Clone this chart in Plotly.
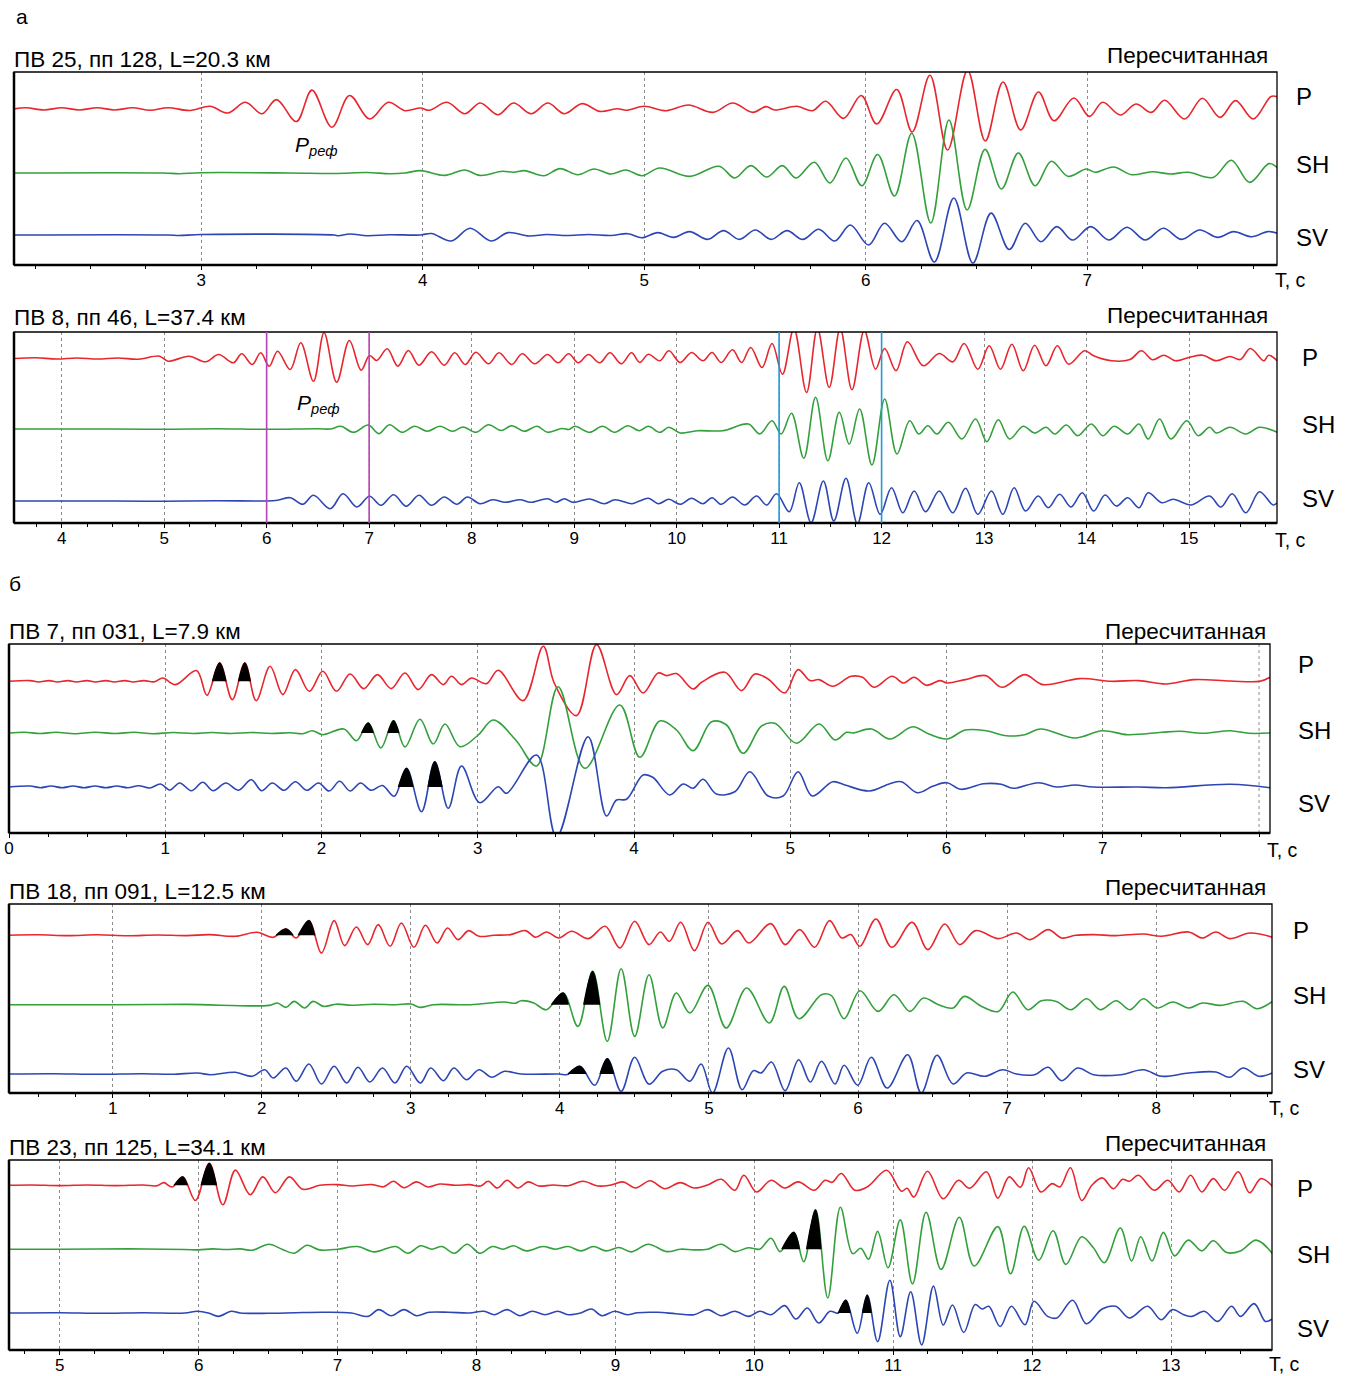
import plotly.graph_objects as go

# ------------------------------------------------------------------
# DATA: extrema of each trace
# t in seconds, amplitude in pixels relative to the trace baseline
# ------------------------------------------------------------------
# ---- panel 1: ПВ 25 ----
p1_P_t = [2.15, 2.21, 2.29, 2.37, 2.45, 2.53, 2.61, 2.69, 2.77, 2.85, 2.95, 3.04, 3.12, 3.20, 3.275, 3.34, 3.43, 3.50, 3.59, 3.67, 3.76, 3.845, 3.92, 3.99, 4.03, 4.11, 4.19, 4.26, 4.34, 4.41, 4.49, 4.565, 4.64, 4.72, 4.80, 4.88, 4.92, 5.0, 5.10, 5.20, 5.31, 5.40, 5.49, 5.55, 5.59, 5.69, 5.76, 5.82, 5.90, 5.98, 6.05, 6.14, 6.21, 6.29, 6.37, 6.46, 6.54, 6.62, 6.70, 6.78, 6.85, 6.94, 7.01, 7.07, 7.15, 7.22, 7.29, 7.35, 7.44, 7.52, 7.60, 7.67, 7.75, 7.83, 7.86]
p1_P_a = [0, 1.2, -1, 1.2, -1, 1.3, -1, 1.3, -1.2, 1.3, -1.5, 2.7, -4, 6.7, -4.7, 9.4, -12.5, 18.9, -18.2, 13.5, -10, 6.7, -1.7, 1, -1.3, 6.7, -4.7, 6, -5.7, 6, -4.7, 6, -4.7, 5.4, -2.4, 0.3, -1.3, 2.7, -1.7, 4, -3.4, 6, -3.4, 2.4, -1, 2.7, -1.7, 7.7, -9.4, 13.5, -15, 19.5, -23, 33.7, -41, 38.7, -32, 27, -21, 17, -11.8, 11, -7.4, 6.7, -6, 5, -3.4, 8.8, -10, 10.8, -8.4, 8.4, -10, 12.5, 12]
p1_SH_t = [2.15, 2.83, 2.9, 3.0, 3.4, 3.6, 3.75, 3.85, 3.92, 3.99, 4.10, 4.19, 4.26, 4.36, 4.41, 4.46, 4.547, 4.62, 4.70, 4.774, 4.85, 4.917, 4.99, 5.07, 5.205, 5.338, 5.409, 5.481, 5.553, 5.624, 5.686, 5.768, 5.839, 5.911, 5.983, 6.054, 6.130, 6.208, 6.294, 6.376, 6.458, 6.539, 6.613, 6.689, 6.765, 6.838, 6.914, 6.996, 7.037, 7.119, 7.201, 7.293, 7.375, 7.456, 7.569, 7.651, 7.733, 7.821, 7.86]
p1_SH_a = [0, 0, -0.7, 0.3, 0, -0.5, 0.5, -0.7, 0, 2.4, -2.4, 3, -2.4, 1.7, 0.7, 2.4, -2.7, 4.4, -1.7, 4, -1, 3, -2.7, 5, -3.4, 6.7, -5, 7.4, -4, 7.4, -5, 10.8, -10, 15, -12.8, 18.5, -23, 39.7, -50, 53, -37, 23.6, -16, 20, -12.8, 11.8, -3.4, 4, 0.7, 6, -1.7, 1.3, -1, 0.7, -4.4, 12.8, -9.4, 9.4, 5]
p1_SV_t = [2.15, 2.85, 2.9, 3.0, 3.6, 3.62, 3.67, 3.75, 3.85, 3.99, 4.04, 4.129, 4.214, 4.309, 4.385, 4.48, 4.56, 4.65, 4.75, 4.85, 4.926, 4.99, 5.061, 5.133, 5.205, 5.287, 5.358, 5.43, 5.502, 5.573, 5.645, 5.716, 5.788, 5.86, 5.931, 6.013, 6.085, 6.163, 6.232, 6.31, 6.398, 6.484, 6.566, 6.648, 6.72, 6.791, 6.863, 6.934, 7.016, 7.098, 7.18, 7.262, 7.344, 7.426, 7.508, 7.59, 7.661, 7.743, 7.815, 7.86]
p1_SV_a = [0, 0, -0.5, 0.5, 0, -0.7, 1, -0.7, 0.3, 0, 1.5, -6, 6.7, -6, 2.4, -1, 0.5, -0.5, 0.5, -0.5, 1.3, -2.7, 2.4, -2.4, 3.4, -4.4, 4.4, -4.4, 5, -4.4, 4.4, -4.4, 5.7, -6, 10, -10, 11.8, -6.7, 14.5, -27, 37, -28, 21.9, -14.5, 11.8, -6.7, 8.4, -5, 8.4, -5, 7.7, -5, 6.7, -4.4, 5, -2.4, 3.4, -1.7, 3.4, 1.7]

# ---- panel 2: ПВ 8 ----
p2_P_t = [3.53, 3.75, 3.95, 4.15, 4.35, 4.55, 4.75, 4.955, 5.037, 5.243, 5.407, 5.531, 5.675, 5.757, 5.86, 5.942, 6.025, 6.107, 6.23, 6.333, 6.457, 6.56, 6.683, 6.807, 6.922, 7.004, 7.074, 7.177, 7.28, 7.383, 7.486, 7.609, 7.733, 7.835, 7.938, 8.041, 8.165, 8.267, 8.391, 8.494, 8.617, 8.741, 8.844, 8.947, 9.04, 9.14, 9.25, 9.35, 9.46, 9.56, 9.64, 9.725, 9.836, 9.925, 10.035, 10.146, 10.257, 10.346, 10.434, 10.545, 10.634, 10.723, 10.833, 10.931, 11.033, 11.144, 11.268, 11.374, 11.489, 11.596, 11.711, 11.831, 11.941, 12.03, 12.141, 12.252, 12.407, 12.562, 12.695, 12.806, 12.939, 13.05, 13.16, 13.271, 13.382, 13.493, 13.604, 13.715, 13.825, 13.98, 14.069, 14.246, 14.424, 14.535, 14.645, 14.756, 14.867, 15.0, 15.133, 15.266, 15.4, 15.5, 15.598, 15.731, 15.776, 15.86]
p2_P_a = [0, 0.7, -0.5, 0.5, -0.5, 0.5, -0.7, 2.3, -2.7, 2.3, -3.3, 4, -4.3, 4.7, -6, 5.7, -7.7, 7.3, -11, 15.7, -22.7, 25.7, -23.7, 18, -11.7, 3, -2, 9.7, -7.7, 8, -6.7, 6.7, -6.7, 5.7, -6, 6.3, -5.3, 5.7, -6, 4.7, -5.3, 4, -4.3, 4.7, -4.3, 4, -4.3, 5.7, -5.3, 5.7, -4, 4.3, -2.3, 7.7, -4, 6, -2.3, 6, -4, 8.7, -4, 11, -9, 15, -15.7, 30, -34, 30, -29, 30, -31.3, 28, -10.7, 10, -12.3, 16.7, -7.3, 5, -3.3, 15, -10.7, 12.7, -10.7, 14.3, -12.3, 13.3, -7.3, 12.7, -5.7, 7.7, 2.7, -2.3, -1, 7.7, -1.3, 3.3, -2.3, 1, 3.3, -2.3, 2, -1, 10, -2.3, 3.3, -2.3]
p2_SH_t = [3.53, 4.5, 5.0, 5.5, 6.0, 6.5, 6.62, 6.724, 6.848, 6.992, 7.095, 7.198, 7.321, 7.444, 7.568, 7.691, 7.815, 7.918, 8.041, 8.165, 8.288, 8.391, 8.514, 8.638, 8.741, 8.88, 8.95, 9.008, 9.152, 9.276, 9.399, 9.523, 9.637, 9.725, 9.836, 9.925, 10.035, 10.2, 10.45, 10.70, 10.811, 10.931, 11.02, 11.121, 11.241, 11.356, 11.476, 11.587, 11.684, 11.786, 11.906, 12.03, 12.15, 12.274, 12.363, 12.451, 12.54, 12.651, 12.784, 12.917, 13.027, 13.138, 13.249, 13.382, 13.493, 13.604, 13.692, 13.803, 13.914, 14.047, 14.158, 14.269, 14.402, 14.512, 14.601, 14.712, 14.823, 14.978, 15.089, 15.2, 15.266, 15.4, 15.554, 15.687, 15.86]
p2_SH_a = [0, 0, -0.3, 0.3, -0.3, 0.3, 0, 2.7, -3.3, 4, -4.7, 4.3, -3.3, 2.7, -2.3, 2.7, -2.3, 2, -3.3, 4.3, -1.5, 3.3, -2.3, 2.7, -3.3, 0.5, -0.5, 2.7, -3.3, 2.7, -3.3, 3.3, -1.7, 2.7, -3.3, 1.7, -4, -1.7, -1.7, 5, -5, 8.3, -5, 15.7, -29.3, 31.7, -31.7, 16.7, -15, 20, -36, 30, -25, 8.3, -5, 3.3, -5, 6.7, -10, 10, -12.7, 9.3, -10, 2.7, -4, 1.7, -5, 4, -6.7, 5, -6.7, 2.7, -5, 5, -10, 10, -10, 8.3, -6.7, 1.7, -4, 1.7, -5, 1.7, -3.3]
p2_SV_t = [3.53, 4.5, 5.0, 5.5, 6.0, 6.107, 6.23, 6.354, 6.457, 6.621, 6.745, 6.881, 7.004, 7.115, 7.239, 7.362, 7.486, 7.609, 7.733, 7.856, 7.959, 8.082, 8.206, 8.329, 8.473, 8.576, 8.741, 8.823, 8.905, 8.988, 9.152, 9.296, 9.399, 9.564, 9.637, 9.725, 9.823, 9.925, 10.035, 10.146, 10.257, 10.346, 10.434, 10.545, 10.665, 10.78, 10.878, 10.975, 11.099, 11.197, 11.312, 11.432, 11.534, 11.653, 11.764, 11.875, 11.986, 12.097, 12.207, 12.318, 12.429, 12.562, 12.695, 12.819, 12.939, 13.072, 13.183, 13.293, 13.404, 13.528, 13.626, 13.737, 13.848, 13.958, 14.069, 14.18, 14.291, 14.402, 14.512, 14.601, 14.734, 14.845, 15.022, 15.2, 15.31, 15.421, 15.554, 15.687, 15.82, 15.86]
p2_SV_a = [0, 0, -0.3, 0.3, 0, 0.7, 3.3, -3.3, 5.7, -7.7, 7.3, -6, 4.7, -4.3, 6.3, -5.3, 5.7, -4.3, 4, -3.3, 4, -2.7, 1.3, -1.3, 1.3, -1.3, 2.3, -1.3, 2.3, -1.3, 2, -2.7, 1.3, -2.7, 0, 2.7, -2.7, 1.7, -3.3, 2.7, -2.7, 3.3, -3.3, 4, -4, 5, -4, 7.3, -10.7, 18.3, -21.7, 20, -20, 22.7, -22.7, 18.3, -13.3, 13.3, -11.7, 10, -10.7, 10, -11.7, 12.7, -13.3, 10, -13.3, 13.3, -10, 5, -6.7, 6.7, -6, 8.3, -10, 6, -5, 3.3, -6.7, 8.3, -1.7, 1.7, -4, 5, -6, 7.3, -11.7, 9.3, -4, -1.7]

# ---- panel 3: ПВ 7 ----
p3_P_t = [0.0, 0.135, 0.189, 0.256, 0.31, 0.377, 0.431, 0.499, 0.553, 0.62, 0.674, 0.741, 0.795, 0.863, 0.93, 0.984, 1.065, 1.2, 1.267, 1.348, 1.429, 1.509, 1.582, 1.671, 1.752, 1.833, 1.922, 2.008, 2.095, 2.183, 2.27, 2.358, 2.446, 2.534, 2.619, 2.704, 2.779, 2.832, 2.896, 2.96, 3.056, 3.131, 3.29, 3.419, 3.49, 3.632, 3.76, 3.888, 3.973, 4.058, 4.154, 4.21, 4.272, 4.378, 4.432, 4.581, 4.688, 4.773, 4.858, 4.965, 5.05, 5.126, 5.184, 5.272, 5.389, 5.462, 5.535, 5.652, 5.725, 5.792, 5.871, 5.959, 6.003, 6.12, 6.251, 6.354, 6.5, 6.617, 6.851, 7.056, 7.23, 7.406, 7.582, 7.816, 8.006, 8.07]
p3_P_a = [0, 0.7, -0.7, 0.7, -0.7, 0.7, -0.7, 0.7, -0.7, 0.7, -0.7, 0.7, -0.7, 0.7, -0.5, 3.3, -3.3, 10.7, -14, 18.3, -18.3, 18.3, -19.3, 15, -13.3, 11.7, -10, 10, -10, 7.3, -7.3, 6.7, -7.3, 8.3, -8.3, 6.7, -3.3, 5, -3.3, 3.3, -2.3, 11, -19.3, 35, -2, -34.3, 36.7, -13.3, 5.7, -11.7, 8.3, 5.7, 7.7, -7.7, -1, 9, -9.3, 7.3, 2.3, -11.7, 11.7, 0.7, 1.7, -5, 5, 4, -6, 5, -1.7, 4, -4, 0.7, -1.7, 1.7, 5.7, -6, 6.7, -3.3, 2.7, 0, 0.7, -2.7, 1.7, 0.3, 0, 4]
p3_SH_t = [0.0, 0.1, 0.2, 0.3, 0.42, 0.55, 0.68, 0.8, 0.92, 1.05, 1.18, 1.3, 1.42, 1.55, 1.68, 1.8, 1.88, 1.941, 2.008, 2.143, 2.224, 2.299, 2.38, 2.461, 2.534, 2.63, 2.715, 2.79, 2.886, 3.003, 3.099, 3.243, 3.376, 3.514, 3.685, 3.909, 4.037, 4.165, 4.272, 4.378, 4.496, 4.592, 4.698, 4.816, 4.901, 5.04, 5.184, 5.287, 5.36, 5.40, 5.52, 5.637, 5.784, 5.886, 6.003, 6.12, 6.251, 6.383, 6.5, 6.602, 6.822, 6.997, 7.158, 7.377, 7.494, 7.64, 7.816, 7.933, 8.07]
p3_SH_a = [0, 0.7, -0.5, 0.7, -0.7, 0.7, -0.5, 0.7, -0.7, 0.5, -0.5, 0.5, -0.5, 0.5, -0.5, 0.3, -0.7, 2.3, -1.7, 4, -7.7, 10, -15, 12.3, -14, 13.7, -11, 9, -13.7, -2, 13, -7, -33, 46.3, -35.3, 28, -24.3, 12, 3, -17.7, 11.3, 8, -20.3, 7, 9.7, -10.3, 9, -7, 0.7, 0, 4, -6, 6.3, -1, -6, 3, 2.3, -2.7, -1.7, 4, -5, 2.3, -1.7, 0.7, 1.7, -0.3, 2.3, -0.3, 0]
p3_SV_t = [0.0, 0.135, 0.2, 0.27, 0.34, 0.41, 0.48, 0.55, 0.62, 0.69, 0.76, 0.83, 0.9, 0.97, 1.03, 1.092, 1.167, 1.24, 1.307, 1.388, 1.469, 1.55, 1.617, 1.685, 1.76, 1.833, 1.906, 1.981, 2.049, 2.116, 2.183, 2.25, 2.318, 2.39, 2.466, 2.544, 2.64, 2.725, 2.811, 2.896, 3.013, 3.131, 3.184, 3.376, 3.504, 3.706, 3.824, 3.888, 3.952, 4.058, 4.12, 4.229, 4.314, 4.378, 4.442, 4.527, 4.645, 4.741, 4.858, 4.954, 5.05, 5.14, 5.272, 5.35, 5.506, 5.637, 5.711, 5.813, 5.915, 6.003, 6.091, 6.237, 6.35, 6.427, 6.588, 6.705, 6.822, 6.939, 7.231, 7.406, 7.816, 8.07]
p3_SV_a = [0, 1, -0.7, 1, -0.7, 1, -0.7, 1, -0.7, 1, -0.7, 1.3, -1, 3, -3, 4, -3.7, 4.7, -3.7, 4, -3.3, 7.3, -3.7, 4, -3.3, 5.3, -3.3, 4, -4, 5.7, -4, 4, -3.3, 1.5, -9.3, 18.7, -24.7, 25.3, -21.3, 21, -15.7, 0.3, -6.3, 32, -50, 50.3, -29, -13, -12.3, 12, 9.7, -8, 3, -1.3, 7.7, -7, -4.7, 15.3, -9, -9, 15.3, -9, 5.3, 2, -4, 3.3, 5.3, -5.7, 1, 4.3, -2.3, 3.3, 2.7, -1.3, 4.3, 0, 2, 0, 0, -0.7, 2.7, -0.7]

# ---- panel 4: ПВ 18 ----
p4_P_t = [0.3, 0.5, 0.7, 0.9, 1.1, 1.3, 1.5, 1.65, 1.823, 1.97, 2.077, 2.162, 2.232, 2.317, 2.401, 2.486, 2.556, 2.635, 2.711, 2.782, 2.861, 2.937, 3.021, 3.098, 3.176, 3.247, 3.317, 3.388, 3.458, 3.557, 3.67, 3.769, 3.839, 3.91, 3.994, 4.079, 4.191, 4.304, 4.403, 4.502, 4.598, 4.674, 4.735, 4.811, 4.903, 4.994, 5.085, 5.192, 5.268, 5.414, 5.511, 5.609, 5.709, 5.809, 5.891, 5.952, 6.013, 6.12, 6.226, 6.363, 6.469, 6.582, 6.682, 6.789, 6.941, 7.063, 7.154, 7.276, 7.367, 7.458, 7.58, 7.732, 7.915, 8.036, 8.219, 8.31, 8.401, 8.492, 8.629, 8.78]
p4_P_a = [0, 0.5, -0.3, 0.5, -0.5, 0.3, -0.3, 0.7, -1, 3, -2, 6.3, -2.7, 14.7, -17.7, 14.7, -10.3, 8.3, -9.3, 10.7, -11, 12.3, -12, 10, -7.7, 7.3, -4.3, 4.7, -1, 0, 0.7, 4.7, -2, 3.3, -2.7, 4, -3.3, 9, -12.7, 14, -9.3, 3.3, -6, 13, -15.3, 13, -8.7, 4.7, -7.7, 11.7, -9.3, 5.7, -12, 14.7, -2.7, 0.7, -11, 16.3, -12, 13, -14.3, 11.3, -9.3, 4.7, -3.3, 2.3, -4.3, 5.7, -2.7, 0, 0.7, -0.3, 1.3, -1, 3.3, -2.7, 3.3, -3.3, 2.3, -2]
p4_SH_t = [0.3, 1.0, 1.5, 2.049, 2.105, 2.162, 2.218, 2.288, 2.345, 2.415, 2.5, 2.6, 2.75, 2.9, 3.0, 3.064, 3.15, 3.4, 3.628, 3.7, 3.74, 3.825, 3.91, 4.022, 4.121, 4.22, 4.318, 4.411, 4.502, 4.598, 4.69, 4.781, 4.872, 4.994, 5.116, 5.253, 5.405, 5.505, 5.603, 5.755, 5.82, 5.907, 6.013, 6.135, 6.241, 6.348, 6.439, 6.54, 6.637, 6.713, 6.83, 6.941, 7.038, 7.139, 7.23, 7.33, 7.428, 7.534, 7.626, 7.732, 7.823, 7.915, 8.006, 8.112, 8.219, 8.31, 8.431, 8.584, 8.675, 8.78]
p4_SH_a = [0, 0, 0.3, -0.7, 1.7, -2.7, 3.3, -3.3, 3.3, -1.7, 0.5, -0.5, 0.5, 0, 0.7, -2.7, 0, 0, 2.7, 1.5, 4, 1.7, -5, 11.7, -21.7, 33.3, -36.7, 36, -31.7, 30, -23.3, 11.7, -8.3, 19.3, -23.3, 16.7, -18.3, 18.3, -14, 10, 9.3, -14, 14, -6.7, 10, -6.7, 6.7, 0, -3.3, 8.3, -1.7, -6.7, 12.7, -5, 4, 3.3, -5, 6, -5, 4, -5, 6, -3.3, 2.7, -3.3, 1.7, -0.7, 3.3, -4, 3.3]
p4_SV_t = [0.3, 0.6, 0.9, 1.2, 1.4, 1.57, 1.654, 1.823, 1.936, 2.021, 2.077, 2.162, 2.232, 2.317, 2.401, 2.486, 2.57, 2.646, 2.725, 2.81, 2.894, 2.973, 3.064, 3.134, 3.219, 3.289, 3.374, 3.458, 3.543, 3.628, 3.74, 3.994, 4.05, 4.135, 4.234, 4.318, 4.411, 4.502, 4.598, 4.69, 4.781, 4.872, 4.948, 5.024, 5.131, 5.222, 5.298, 5.35, 5.42, 5.511, 5.602, 5.68, 5.755, 5.846, 5.907, 5.998, 6.089, 6.196, 6.333, 6.424, 6.53, 6.637, 6.728, 6.85, 6.971, 7.063, 7.184, 7.276, 7.367, 7.473, 7.58, 7.762, 7.915, 8.036, 8.219, 8.401, 8.492, 8.584, 8.69, 8.78]
p4_SV_a = [0, 0.3, -0.3, 0.3, -0.3, 1, -0.7, 1.7, -2.3, 4.3, -4, 6, -7.3, 10, -10, 7.7, -9, 6.7, -8, 6, -9, 7.7, -9, 6, -6.7, 6, -5.7, 4.3, -3.3, 2.7, 0, 0, -0.5, 7.7, -11.3, 15.3, -17.3, 16.7, -10.3, 2.7, 4.3, -7.3, 10, -19, 26, -15.7, 3.3, 1, 12, -16.7, 14.3, -8, 12.7, -10, 8.7, -11.3, 16.7, -14, 19.3, -19, 18.7, -10, 1, -2.3, 4.3, 0, -0.7, 6.7, -6.7, 6, -0.7, -0.7, 4.3, -2.3, 1, 2, -3.3, 6, -2.3, 1]

# ---- panel 5: ПВ 23 ----
p5_P_t = [4.63, 4.8, 5.0, 5.2, 5.4, 5.6, 5.7, 5.749, 5.81, 5.886, 5.977, 6.077, 6.174, 6.265, 6.371, 6.462, 6.553, 6.653, 6.75, 6.871, 7.0, 7.1, 7.25, 7.33, 7.402, 7.478, 7.569, 7.65, 7.736, 7.85, 7.95, 8.03, 8.085, 8.15, 8.221, 8.297, 8.373, 8.449, 8.55, 8.661, 8.767, 8.873, 8.96, 9.055, 9.146, 9.25, 9.354, 9.468, 9.566, 9.664, 9.762, 9.86, 9.925, 10.016, 10.121, 10.219, 10.317, 10.431, 10.51, 10.56, 10.627, 10.725, 10.82, 10.953, 11.06, 11.10, 11.149, 11.247, 11.36, 11.47, 11.55, 11.672, 11.753, 11.835, 11.916, 11.975, 12.063, 12.145, 12.20, 12.276, 12.357, 12.43, 12.504, 12.586, 12.651, 12.7, 12.765, 12.88, 12.977, 13.059, 13.141, 13.222, 13.304, 13.386, 13.484, 13.565, 13.647, 13.73]
p5_P_a = [0, 0.3, -0.3, 0.3, -0.3, 0.3, -0.5, 2.7, -1.7, 8.4, -15.2, 21.9, -19.5, 15.2, -9.4, 8.4, -7.4, 8.4, -4, 0, 0.7, -0.7, 0.7, -1.5, 4, -2.4, 3.4, -1.7, 1.3, 0, 0.7, -0.7, 4, -2.7, 5, -2.7, 3.4, -0.7, 0.3, -0.5, 4, -0.7, 0, 3.4, -2.7, 4.5, -3.4, 2.7, -2.7, 0.3, 6, -5, 10, -6.7, 5, -2.7, 3.4, -5, 5, 3, 11.8, -5, -1, 15, -6, -3, -11.8, 14, -13.5, 5, -3, 13.5, -12.8, 8.4, -2, 17.5, -6.7, 1.7, -1.7, 17.5, -15.2, 0, 7.4, -3.4, 6, 4, 10, -5, 5, -6.7, 10, -6.7, 6.7, -5, 13.5, -7.4, 6.7, -1]
p5_SH_t = [4.63, 5.0, 5.5, 5.9, 6.0, 6.1, 6.2, 6.3, 6.386, 6.507, 6.6, 6.689, 6.78, 6.87, 7.0, 7.144, 7.266, 7.417, 7.508, 7.599, 7.68, 7.751, 7.842, 7.933, 8.024, 8.115, 8.19, 8.267, 8.358, 8.479, 8.57, 8.661, 8.752, 8.843, 8.934, 9.025, 9.116, 9.237, 9.37, 9.47, 9.566, 9.664, 9.762, 9.86, 9.958, 10.039, 10.121, 10.186, 10.284, 10.356, 10.441, 10.529, 10.62, 10.708, 10.767, 10.823, 10.888, 10.963, 11.051, 11.139, 11.237, 11.345, 11.476, 11.583, 11.753, 11.845, 11.943, 12.047, 12.151, 12.243, 12.357, 12.44, 12.52, 12.635, 12.716, 12.782, 12.863, 12.945, 13.026, 13.124, 13.222, 13.304, 13.402, 13.5, 13.614, 13.73]
p5_SH_a = [0, 0, 0.3, -0.3, -0.7, 0.3, -0.3, 0.3, -1, 5, 0, -4, 4, -0.7, 0, 2.7, -2.7, 2.7, -4, 3.4, 0, 2.7, -4, 5, -4, 2.7, 0, 3.4, -1.7, 2.7, 0, 2.7, -1.7, 2.7, -1.7, 1.7, -2.7, 5, -2.4, 0, -0.7, 0, 5, -2.4, 1.5, 0, 11, -2.4, 16.8, -12.5, 39.4, -48.8, 42, -4.4, 1, -10, 17.8, -18.5, 29.3, -34.7, 37, -20.2, 32, -16.8, 22.6, -24.6, 22.9, -11, 18.5, -15.2, 12.5, 1.7, -13.5, 21.2, -11.8, 12.5, -11.8, 16.8, -6.7, 9.1, -1.7, 8.4, -3.4, -1.7, 9.1, -4.4]
p5_SV_t = [4.63, 5.0, 5.3, 5.6, 5.9, 5.992, 6.07, 6.143, 6.234, 6.3, 6.5, 6.7, 6.9, 7.1, 7.22, 7.296, 7.387, 7.478, 7.569, 7.66, 7.8, 7.95, 8.054, 8.13, 8.221, 8.312, 8.403, 8.494, 8.585, 8.661, 8.75, 8.828, 8.904, 8.995, 9.086, 9.16, 9.305, 9.435, 9.566, 9.664, 9.762, 9.86, 9.958, 10.039, 10.121, 10.219, 10.3, 10.382, 10.464, 10.545, 10.605, 10.659, 10.741, 10.813, 10.888, 10.976, 11.051, 11.126, 11.205, 11.29, 11.36, 11.427, 11.508, 11.59, 11.64, 11.688, 11.77, 11.851, 11.949, 12.014, 12.112, 12.178, 12.292, 12.39, 12.504, 12.602, 12.7, 12.831, 12.929, 13.01, 13.092, 13.15, 13.239, 13.337, 13.435, 13.501, 13.598, 13.68, 13.73]
p5_SV_a = [0, 0.3, -0.3, 0.3, 0, 1.7, 0, -3.4, 1.7, 0, -0.3, 0.3, 0.7, 0, -3.4, 3.4, -2.7, 3.4, -2.7, 0.7, 0.7, 0, 1.7, -1.7, 3.4, -2.7, 1.7, -1.7, 1.7, -1.7, 0, 4, -2.7, 1.7, -1.7, 0.3, 0.7, -0.7, -1.7, 3.4, -2.7, 1.7, -3.4, 1.7, -1.7, 7.4, -6, 5, -10, 1.7, 0, 12.8, -20.2, 17.8, -28.6, 32.7, -23.6, 21.2, -31.9, 26.9, -12, 8, -19.5, 8.4, 4, 6.7, -13.5, 6.7, -11.8, 11.8, -3.4, -5, 12.8, -10.8, 4, 6.7, -5, 6.7, -6.7, 3.4, -1.7, -3.4, 1.7, -8.4, 6.7, -3.4, 9.4, -8.4, -6]

# times of the peaks shown filled in black
p3_fill = {'P': [1.348, 1.509], 'SH': [2.299, 2.461], 'SV': [2.544, 2.725]}
p4_fill = {'P': [2.162, 2.317], 'SH': [4.022, 4.22], 'SV': [4.135, 4.318]}
p5_fill = {'P': [5.886, 6.077], 'SH': [10.284, 10.441], 'SV': [10.659, 10.813]}

titles = ['ПВ 25, пп 128, L=20.3 км', 'ПВ 8, пп 46, L=37.4 км', 'ПВ 7, пп 031, L=7.9 км',
          'ПВ 18, пп 091, L=12.5 км', 'ПВ 23, пп 125, L=34.1 км']
tick_labels = [[3, 4, 5, 6, 7], list(range(4, 16)), list(range(0, 8)),
               list(range(1, 9)), list(range(5, 14))]
grid_extra = [[], [], [8], [], []]
markers_p2 = {'magenta': [6, 7], 'cyan': [11, 12]}

# ------------------------------------------------------------------
# LAYOUT / STYLE
# ------------------------------------------------------------------
W, H = 1352, 1376
COL = {'P': '#e8262d', 'SH': '#33a03c', 'SV': '#2c46b4'}
FONT = 'Arial, Liberation Sans, sans-serif'
GRID = '#8c8c8c'

PANELS = [
    dict(box=(14, 72, 1277, 265), xr=(2.155, 7.857), base={'P': 37, 'SH': 101, 'SV': 163},
         data={'P': (p1_P_t, p1_P_a), 'SH': (p1_SH_t, p1_SH_a), 'SV': (p1_SV_t, p1_SV_a)}, fills={},
         title_xy=(12, 60), rec_xy=(1270, 56), lab_x=1294, lab_y={'P': 97, 'SH': 164, 'SV': 238}, tc=(1290, 280)),
    dict(box=(14, 332, 1277, 523), xr=(3.535, 15.858), base={'P': 26.5, 'SH': 97, 'SV': 169},
         data={'P': (p2_P_t, p2_P_a), 'SH': (p2_SH_t, p2_SH_a), 'SV': (p2_SV_t, p2_SV_a)}, fills={},
         title_xy=(12, 318), rec_xy=(1270, 316), lab_x=1300, lab_y={'P': 357, 'SH': 424, 'SV': 499}, tc=(1290, 540)),
    dict(box=(9, 644, 1270, 833), xr=(0.0, 8.07), base={'P': 37.3, 'SH': 89, 'SV': 143},
         data={'P': (p3_P_t, p3_P_a), 'SH': (p3_SH_t, p3_SH_a), 'SV': (p3_SV_t, p3_SV_a)}, fills=p3_fill,
         title_xy=(7, 631), rec_xy=(1268, 631), lab_x=1296, lab_y={'P': 664, 'SH': 730, 'SV': 803}, tc=(1282, 850)),
    dict(box=(9, 904, 1272, 1093), xr=(0.305, 8.777), base={'P': 31.3, 'SH': 100.7, 'SV': 170},
         data={'P': (p4_P_t, p4_P_a), 'SH': (p4_SH_t, p4_SH_a), 'SV': (p4_SV_t, p4_SV_a)}, fills=p4_fill,
         title_xy=(7, 891), rec_xy=(1268, 887), lab_x=1291, lab_y={'P': 930, 'SH': 996, 'SV': 1069}, tc=(1284, 1108)),
    dict(box=(9, 1160, 1272, 1350), xr=(4.635, 13.727), base={'P': 25.3, 'SH': 89.2, 'SV': 153},
         data={'P': (p5_P_t, p5_P_a), 'SH': (p5_SH_t, p5_SH_a), 'SV': (p5_SV_t, p5_SV_a)}, fills=p5_fill,
         title_xy=(7, 1147), rec_xy=(1268, 1143), lab_x=1295, lab_y={'P': 1188, 'SH': 1254, 'SV': 1328}, tc=(1284, 1364)),
]


def hump(ts, amps, tf):
    """Zero-crossing -> peak -> zero-crossing of the extremum nearest tf."""
    i = min(range(len(ts)), key=lambda j: abs(ts[j] - tf))
    a0, a1, a2 = amps[i - 1], amps[i], amps[i + 1]
    tl = ts[i - 1] if a0 >= 0 else ts[i - 1] + (ts[i] - ts[i - 1]) * (-a0) / (a1 - a0)
    tr = ts[i + 1] if a2 >= 0 else ts[i] + (ts[i + 1] - ts[i]) * a1 / (a1 - a2)
    return [tl, ts[i], tr], [0, a1, 0]


def px(x):
    return x / W


def py(y):
    return 1 - y / H


fig = go.Figure()
shapes, annotations = [], []
layout = {}

for k, p in enumerate(PANELS, start=1):
    l, t, r, b = p['box']
    ph = b - t
    xa, ya = ('x', 'y') if k == 1 else (f'x{k}', f'y{k}')
    xkey, ykey = ('xaxis', 'yaxis') if k == 1 else (f'xaxis{k}', f'yaxis{k}')

    for comp in ['P', 'SH', 'SV']:
        ts, amps = p['data'][comp]
        n = min(len(ts), len(amps))
        y0 = ph - p['base'][comp]
        fig.add_trace(go.Scatter(
            x=ts[:n], y=[y0 + a for a in amps[:n]], mode='lines', xaxis=xa, yaxis=ya,
            line=dict(color=COL[comp], width=1.6, shape='spline', smoothing=1.0, simplify=False),
            hoverinfo='skip', showlegend=False))
    for comp, flist in p['fills'].items():
        ts, amps = p['data'][comp]
        y0 = ph - p['base'][comp]
        for tf in flist:
            hx, hy = hump(ts, amps, tf)
            fig.add_trace(go.Scatter(
                x=hx, y=[y0 + v for v in hy], mode='lines', xaxis=xa, yaxis=ya,
                fill='toself', fillcolor='black',
                line=dict(color='black', width=1.3, shape='spline', smoothing=1.0),
                hoverinfo='skip', showlegend=False))

    tv = tick_labels[k - 1]
    xax = dict(domain=[px(l), px(r)], range=list(p['xr']), anchor=ya, automargin=False,
               showgrid=True, gridcolor=GRID, gridwidth=1, griddash='3px,3px',
               tickmode='array', tickvals=tv, ticktext=[str(v) for v in tv],
               ticks='outside', ticklen=4, tickwidth=1, tickcolor='black',
               ticklabelstandoff=-4,
               tickfont=dict(family=FONT, size=17, color='black'),
               showline=False, zeroline=False, fixedrange=True,
               minor=dict(tickmode='linear', tick0=0, dtick=0.25, ticks='outside', ticklen=3,
                          tickwidth=1, tickcolor='black', showgrid=False))
    layout[xkey] = xax
    layout[ykey] = dict(domain=[py(b), py(t)], range=[0, ph], visible=False, fixedrange=True,
                        anchor=xa, automargin=False)

    dx, dy = f'{xa} domain', f'{ya} domain'
    for xv in grid_extra[k - 1]:
        shapes.append(dict(type='line', xref=xa, yref=dy, x0=xv, x1=xv, y0=0, y1=1,
                           line=dict(color=GRID, width=1, dash='3px,3px'), layer='below'))
    shapes.append(dict(type='rect', xref=dx, yref=dy, x0=0, x1=1, y0=0, y1=1,
                       line=dict(color='black', width=1.3), layer='above'))
    shapes.append(dict(type='line', xref=dx, yref=dy, x0=0, x1=0, y0=0, y1=1,
                       line=dict(color='black', width=2.5), layer='above'))
    shapes.append(dict(type='line', xref=dx, yref=dy, x0=0, x1=1, y0=0, y1=0,
                       line=dict(color='black', width=2.5), layer='above'))

    if k == 2:
        for col, xs in (('#b543b5', markers_p2['magenta']), ('#1d9bd6', markers_p2['cyan'])):
            for xv in xs:
                shapes.append(dict(type='line', xref=xa, yref=dy, x0=xv, x1=xv, y0=0, y1=1,
                                   line=dict(color=col, width=1.6), layer='above'))

    # texts
    tx, tyy = p['title_xy']
    annotations.append(dict(text=titles[k - 1], x=px(tx), y=py(tyy), xref='paper', yref='paper',
                            xanchor='left', yanchor='middle', showarrow=False,
                            font=dict(family=FONT, size=22.5, color='black')))
    rx, ry = p['rec_xy']
    annotations.append(dict(text='Пересчитанная', x=px(rx), y=py(ry), xref='paper', yref='paper',
                            xanchor='right', yanchor='middle', showarrow=False,
                            font=dict(family=FONT, size=22.5, color='black')))
    for comp in ['P', 'SH', 'SV']:
        annotations.append(dict(text=comp, x=px(p['lab_x']), y=py(p['lab_y'][comp]),
                                xref='paper', yref='paper', xanchor='left', yanchor='middle',
                                showarrow=False, font=dict(family=FONT, size=24, color='black')))
    cx, cy = p['tc']
    annotations.append(dict(text='T, c', x=px(cx), y=py(cy), xref='paper', yref='paper',
                            xanchor='center', yanchor='middle', showarrow=False,
                            font=dict(family=FONT, size=19.5, color='black')))

# P_реф labels and section letters
for (lx, ly) in ((316, 146), (318, 404)):
    annotations.append(dict(text='<i>P<sub>реф</sub></i>', x=px(lx), y=py(ly), xref='paper',
                            yref='paper', xanchor='center', yanchor='middle', showarrow=False,
                            font=dict(family=FONT, size=21, color='black')))
annotations.append(dict(text='а', x=px(22), y=py(17), xref='paper', yref='paper', xanchor='center',
                        yanchor='middle', showarrow=False, font=dict(family=FONT, size=21, color='black')))
annotations.append(dict(text='б', x=px(15), y=py(583), xref='paper', yref='paper', xanchor='center',
                        yanchor='middle', showarrow=False, font=dict(family=FONT, size=21, color='black')))

fig.update_layout(width=W, height=H, margin=dict(l=0, r=0, t=0, b=0, autoexpand=False),
                  paper_bgcolor='white', plot_bgcolor='white', showlegend=False,
                  shapes=shapes, annotations=annotations, **layout)

fig.write_html('out.html')
